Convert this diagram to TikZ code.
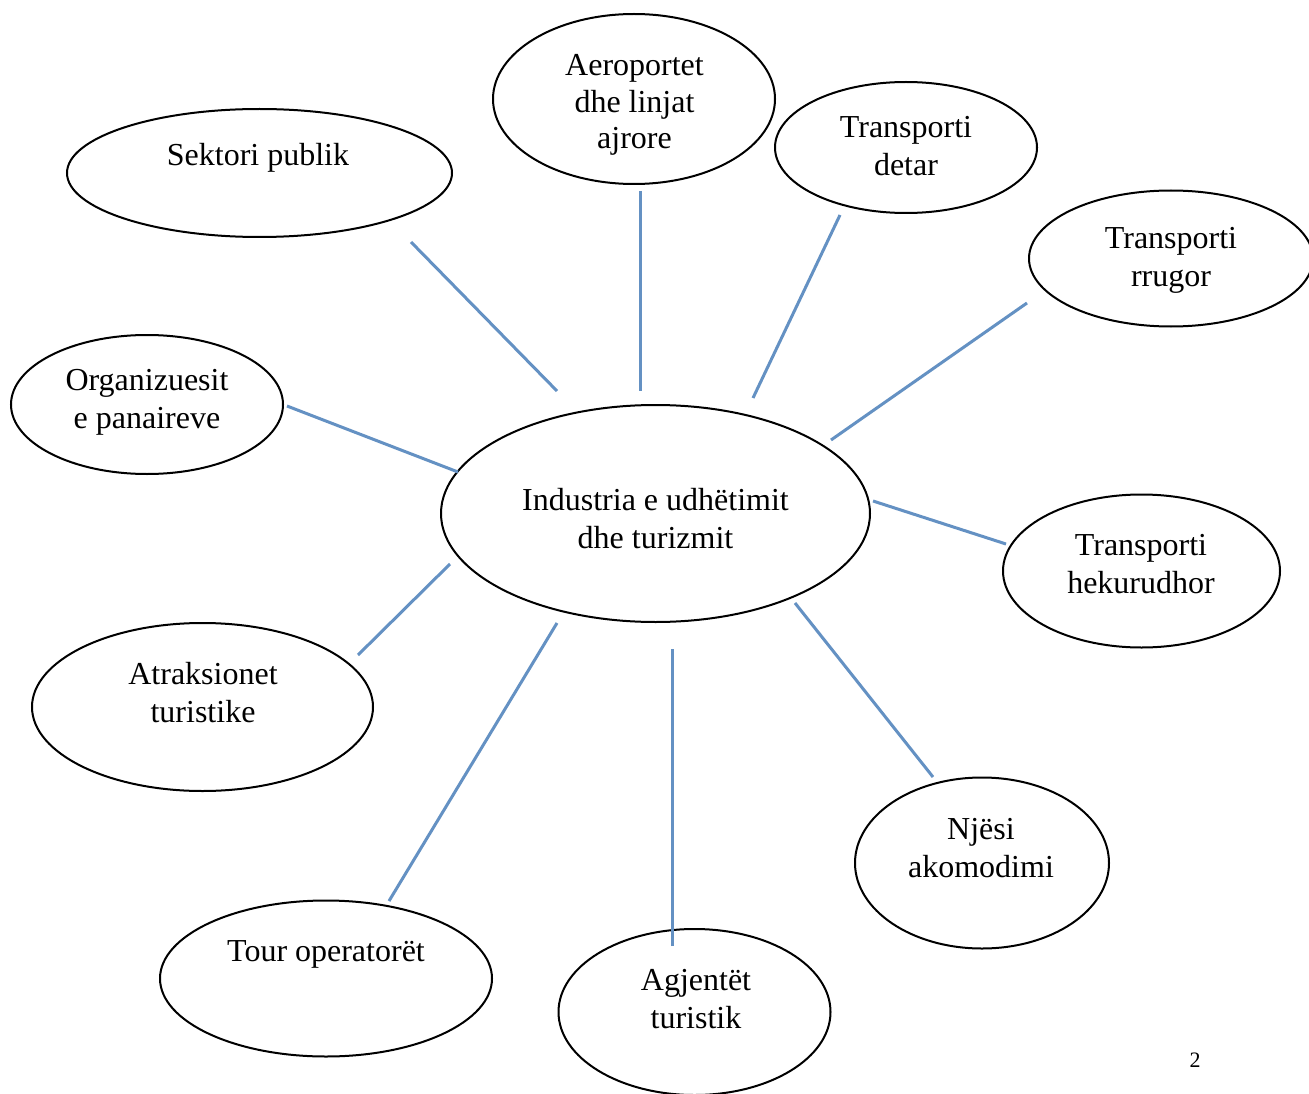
\documentclass[tikz,border=0pt]{standalone}
\usepackage{fontspec}
\setmainfont{Liberation Serif}
\usetikzlibrary{shapes.geometric}
\newcommand\mlines[1]{\begin{tabular}[t]{@{}c@{}}#1\end{tabular}}
\definecolor{linkblue}{RGB}{100,145,195}
\tikzset{
  bubble/.style={draw=black, line width=2pt, ellipse, inner sep=0pt, fill=none},
  lbl/.style={inner sep=0pt, anchor=base, font=\fontsize{32}{38}\selectfont},
  conn/.style={draw=linkblue, line width=3pt},
}
\begin{document}
\begin{tikzpicture}[x=1pt, y=-1pt]
\useasboundingbox (0,0) rectangle (1309,1094);
\fill[white] (0,0) rectangle (1309,1094);

% ellipses
\node[bubble, minimum width=385pt, minimum height=128pt] (sek) at (259.5,173) {};
\node[bubble, minimum width=282pt, minimum height=170pt] (aero) at (634,99) {};
\node[bubble, minimum width=262pt, minimum height=131pt] (det) at (906,147.5) {};
\node[bubble, minimum width=284pt, minimum height=136pt] (rru) at (1171,258.5) {};
\node[bubble, minimum width=272pt, minimum height=139pt] (org) at (147,404.5) {};
\node[bubble, minimum width=429pt, minimum height=217pt] (cen) at (655.5,513.5) {};
\node[bubble, minimum width=277pt, minimum height=153pt] (hek) at (1141.5,571) {};
\node[bubble, minimum width=341pt, minimum height=168pt] (atr) at (202.5,707) {};
\node[bubble, minimum width=254pt, minimum height=171pt] (nje) at (982,863) {};
\node[bubble, minimum width=332pt, minimum height=156pt] (tou) at (326,978.5) {};
\node[bubble, minimum width=272pt, minimum height=166pt] (agj) at (694.5,1012) {};

% texts
\node[lbl] (sek-t) at (258,166) {\mlines{Sektori publik}};
\node[lbl, font=\fontsize{32}{36.5}\selectfont] (aero-t) at (634.5,76) {\mlines{Aeroportet\\dhe linjat\\ajrore}};
\node[lbl] (det-t) at (906,138) {\mlines{Transporti\\detar}};
\node[lbl] (rru-t) at (1171,248) {\mlines{Transporti\\rrugor}};
\node[lbl] (org-t) at (147,390) {\mlines{Organizuesit\\e panaireve}};
\node[lbl] (cen-t) at (655.5,510) {\mlines{Industria e udhëtimit\\dhe turizmit}};
\node[lbl] (hek-t) at (1141,555) {\mlines{Transporti\\hekurudhor}};
\node[lbl] (atr-t) at (203,684) {\mlines{Atraksionet\\turistike}};
\node[lbl] (nje-t) at (981,839) {\mlines{Njësi\\akomodimi}};
\node[lbl] (tou-t) at (326,961) {\mlines{Tour operatorët}};
\node[lbl] (agj-t) at (696,990) {\mlines{Agjentët\\turistik}};
\node[lbl, font=\fontsize{22}{26}\selectfont] (page) at (1195,1067) {2};

% connector end points
\coordinate (sek-a) at (411,242);   \coordinate (sek-b) at (557,391);
\coordinate (aero-a) at (640,191);  \coordinate (aero-b) at (640,391);
\coordinate (det-a) at (840,215);   \coordinate (det-b) at (753,398);
\coordinate (rru-a) at (1027,303);  \coordinate (rru-b) at (831,440);
\coordinate (org-a) at (287,406);   \coordinate (org-b) at (458,472);
\coordinate (hek-a) at (1006,544);  \coordinate (hek-b) at (873,501);
\coordinate (atr-a) at (358,655);   \coordinate (atr-b) at (450,564);
\coordinate (tou-a) at (389,901);   \coordinate (tou-b) at (557,623);
\coordinate (agj-a) at (672,946);   \coordinate (agj-b) at (672,649);
\coordinate (nje-a) at (933,777);   \coordinate (nje-b) at (795,603);

% connectors
\draw[conn] (sek-a) -- (sek-b);
\draw[conn] (aero-a) -- (aero-b);
\draw[conn] (det-a) -- (det-b);
\draw[conn] (rru-a) -- (rru-b);
\draw[conn] (org-a) -- (org-b);
\draw[conn] (hek-a) -- (hek-b);
\draw[conn] (atr-a) -- (atr-b);
\draw[conn] (tou-a) -- (tou-b);
\draw[conn] (agj-a) -- (agj-b);
\draw[conn] (nje-a) -- (nje-b);
\end{tikzpicture}
\end{document}
